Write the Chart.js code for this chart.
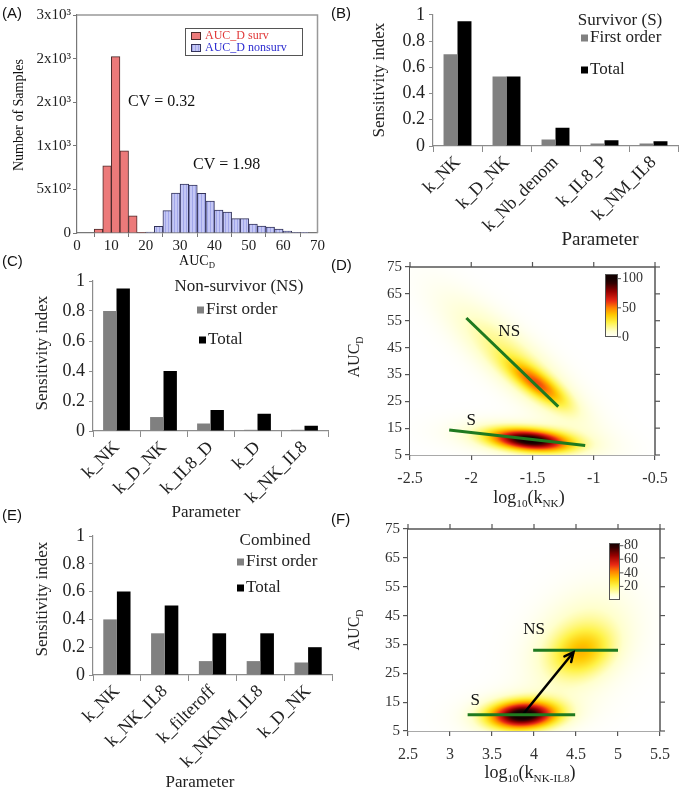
<!DOCTYPE html>
<html lang="en">
<head>
<meta charset="UTF-8">
<title>AUC_D distributions and sensitivity indices</title>
<script src="https://cdn.jsdelivr.net/npm/chart.js"></script>
<style>
  body { margin: 0; background: #fff; }
  #wrap { position: relative; width: 679px; height: 797px; overflow: hidden; }
  #wrap canvas { position: absolute; }
</style>
</head>
<body>
<div id="wrap"></div>
<script>
// ---------- data ----------

// (A) histogram of AUC_D, bins are 2.5 wide (left edges)
const survBinStart = [5, 7.5, 10, 12.5, 15, 17.5];
const survCounts = [46, 771, 2023, 943, 198, 5];
const nonsurvBinStart = [20, 22.5, 25, 27.5, 30, 32.5, 35, 37.5, 40, 42.5, 45, 47.5, 50, 52.5, 55, 57.5, 60, 62.5, 65];
const nonsurvCounts = [10, 76, 256, 458, 561, 550, 454, 366, 263, 240, 164, 164, 103, 80, 69, 46, 23, 5, 4];
const histYLabels = ['0', '5x10²', '1x10³', '2x10³', '2x10³', '3x10³'];

// (B) survivors
const paramsS = ['k_NK', 'k_D_NK', 'k_Nb_denom', 'k_IL8_P', 'k_NM_IL8'];
const firstS = [0.70, 0.53, 0.05, 0.02, 0.02];
const totalS = [0.95, 0.53, 0.14, 0.043, 0.036];

// (C) non-survivors
const paramsNS = ['k_NK', 'k_D_NK', 'k_IL8_D', 'k_D', 'k_NK_IL8'];
const firstNS = [0.80, 0.093, 0.05, 0.008, 0.008];
const totalNS = [0.95, 0.40, 0.14, 0.115, 0.035];

// (E) combined
const paramsC = ['k_NK', 'k_NK_IL8', 'k_filteroff', 'k_NKNM_IL8', 'k_D_NK'];
const firstC = [0.40, 0.30, 0.10, 0.10, 0.09];
const totalC = [0.60, 0.50, 0.30, 0.30, 0.20];

// (D) density clusters: [centre x, centre y, sd x, sd y, correlation, peak]
const densityD = [
  [-1.52, 10.5, 0.21, 2.7, -0.3, 92],
  [-1.56, 11, 0.36, 4.4, -0.3, 14],
  [-1.46, 31.5, 0.16, 5.5, -0.8, 40],
  [-1.63, 39, 0.36, 15, -0.85, 20]
];
const nsLineD = [[-2.04, 56], [-1.29, 23]];
const sLineD = [[-2.18, 14.3], [-1.07, 8.5]];

// (F) density clusters
const densityF = [
  [3.87, 10.5, 0.26, 3.1, 0.1, 80],
  [3.85, 11, 0.42, 5, 0.1, 10],
  [4.57, 32.5, 0.24, 5.5, 0.2, 21],
  [4.55, 35, 0.4, 12, 0.3, 14]
];
const sLineF = [[3.21, 10.6], [4.49, 10.6]];
const nsLineF = [[3.99, 33], [5.0, 33]];
const shiftF = [[3.87, 10.8], [4.47, 32.3]];

// ---------- helpers ----------
const SERIF = "'Liberation Serif', 'Times New Roman', serif";
const SANS = "'Liberation Sans', Arial, sans-serif";
Chart.defaults.font.family = SERIF;
Chart.defaults.color = '#222';

const wrap = document.getElementById('wrap');
const plain = v => String(+Number(v).toFixed(2));

function makeCanvas(box) {
  const c = document.createElement('canvas');
  c.width = box.w; c.height = box.h;
  c.style.left = box.left + 'px'; c.style.top = box.top + 'px';
  c.style.width = box.w + 'px'; c.style.height = box.h + 'px';
  wrap.appendChild(c);
  return c;
}

// chart area fixed through padding + axis sizes (page coordinates)
function layoutFor(box, area) {
  return {
    padding: { left: 0, bottom: 0, top: area.t - box.top, right: box.left + box.w - area.r },
    yW: area.l - box.left,
    xH: box.top + box.h - area.b
  };
}

function richText(ctx, parts, x, y, size, align) {
  const sub = size * 0.62;
  let total = 0;
  const widths = parts.map(p => {
    ctx.font = (p[1] ? sub : size) + 'px ' + SERIF;
    const w = ctx.measureText(p[0]).width;
    total += w;
    return w;
  });
  let cx = align === 'left' ? x : x - total / 2;
  ctx.textAlign = 'left';
  ctx.textBaseline = 'middle';
  parts.forEach((p, i) => {
    ctx.font = (p[1] ? sub : size) + 'px ' + SERIF;
    ctx.fillText(p[0], cx, p[1] ? y + size * 0.32 : y);
    cx += widths[i];
  });
}

function rotText(ctx, parts, x, y, size) {
  ctx.save();
  ctx.translate(x, y);
  ctx.rotate(-Math.PI / 2);
  richText(ctx, parts, 0, 0, size, 'center');
  ctx.restore();
}

function panelLabel(ctx, s, x, y) {
  ctx.font = '15px ' + SANS;
  ctx.textAlign = 'left';
  ctx.textBaseline = 'middle';
  ctx.fillStyle = '#111';
  ctx.fillText(s, x, y);
}

function decoPlugin(box, fn) {
  return {
    id: 'deco',
    afterDraw(chart) {
      const ctx = chart.ctx;
      ctx.save();
      ctx.translate(-box.left, -box.top);
      ctx.fillStyle = '#111';
      fn(ctx, chart);
      ctx.restore();
    }
  };
}

// reversed "hot" colour map
const hotStops = [
  [0, [255, 255, 255]], [0.1, [255, 255, 205]], [0.25, [255, 242, 70]],
  [0.38, [255, 200, 0]], [0.5, [255, 130, 0]], [0.62, [232, 40, 20]],
  [0.78, [150, 0, 0]], [0.92, [50, 0, 0]], [1, [20, 0, 0]]
];
function hot(t) {
  t = Math.max(0, Math.min(1, t));
  for (let i = 1; i < hotStops.length; i++) {
    if (t <= hotStops[i][0]) {
      const a = hotStops[i - 1], b = hotStops[i];
      const f = (t - a[0]) / (b[0] - a[0]);
      return a[1].map((v, k) => Math.round(v + (b[1][k] - v) * f));
    }
  }
  return hotStops[hotStops.length - 1][1];
}

function density(blobs, x, y) {
  let v = 0;
  for (const b of blobs) {
    const dx = (x - b[0]) / b[2], dy = (y - b[1]) / b[3], r = b[4];
    v += b[5] * Math.exp(-0.5 * (dx * dx - 2 * r * dx * dy + dy * dy) / (1 - r * r));
  }
  return v;
}

function heatPlugin(blobs, vmax) {
  return {
    id: 'heat',
    beforeDatasetsDraw(chart) {
      const a = chart.chartArea;
      const w = Math.round(a.right - a.left), h = Math.round(a.bottom - a.top);
      const off = document.createElement('canvas');
      off.width = w; off.height = h;
      const g = off.getContext('2d');
      const img = g.createImageData(w, h);
      const xs = chart.scales.x, ys = chart.scales.y;
      for (let j = 0; j < h; j++) {
        const yv = ys.getValueForPixel(a.top + j + 0.5);
        for (let i = 0; i < w; i++) {
          const xv = xs.getValueForPixel(a.left + i + 0.5);
          const c = hot(density(blobs, xv, yv) / vmax);
          const k = (j * w + i) * 4;
          img.data[k] = c[0]; img.data[k + 1] = c[1]; img.data[k + 2] = c[2]; img.data[k + 3] = 255;
        }
      }
      g.putImageData(img, 0, 0);
      chart.ctx.drawImage(off, a.left, a.top);
    }
  };
}

function colorBar(ctx, x0, x1, y0, y1, vmax, vTop, ticks, size) {
  for (let y = y0; y < y1; y++) {
    const v = vTop * (y1 - y - 0.5) / (y1 - y0);
    const c = hot(v / vmax);
    ctx.fillStyle = 'rgb(' + c.join(',') + ')';
    ctx.fillRect(x0, y, x1 - x0, 1);
  }
  ctx.strokeStyle = '#555';
  ctx.lineWidth = 1;
  ctx.strokeRect(x0 + 0.5, y0 + 0.5, x1 - x0 - 1, y1 - y0 - 1);
  ctx.font = size + 'px ' + SERIF;
  ctx.fillStyle = '#333';
  ctx.textAlign = 'left';
  ctx.textBaseline = 'middle';
  ticks.forEach(t => {
    const y = y1 - (y1 - y0) * t / vTop;
    ctx.beginPath(); ctx.moveTo(x1, y); ctx.lineTo(x1 + 3, y); ctx.stroke();
    ctx.fillText(String(t), x1 + 4, y);
  });
}

// frame + outward ticks on top and right of density panels
function frameTicks(ctx, chart, box) {
  const a = chart.chartArea, xs = chart.scales.x, ys = chart.scales.y;
  ctx.save();
  ctx.translate(box.left, box.top);
  ctx.strokeStyle = '#555';
  ctx.lineWidth = 1.5;
  ctx.beginPath();
  ctx.moveTo(a.left, a.top); ctx.lineTo(a.right, a.top); ctx.lineTo(a.right, a.bottom);
  ctx.stroke();
  ctx.lineWidth = 1.2;
  xs.ticks.forEach(t => {
    const px = xs.getPixelForValue(t.value);
    ctx.beginPath(); ctx.moveTo(px, a.top); ctx.lineTo(px, a.top - 5); ctx.stroke();
  });
  ys.ticks.forEach(t => {
    const py = ys.getPixelForValue(t.value);
    ctx.beginPath(); ctx.moveTo(a.right, py); ctx.lineTo(a.right + 5, py); ctx.stroke();
  });
  ctx.restore();
}

function dataText(ctx, chart, box, s, x, y, size) {
  const px = chart.scales.x.getPixelForValue(x) + box.left;
  const py = chart.scales.y.getPixelForValue(y) + box.top;
  ctx.font = size + 'px ' + SERIF;
  ctx.fillStyle = '#111';
  ctx.textAlign = 'center';
  ctx.textBaseline = 'middle';
  ctx.fillText(s, px, py);
}

function hatchPattern() {
  const c = document.createElement('canvas');
  c.width = 3; c.height = 3;
  const g = c.getContext('2d');
  g.fillStyle = '#c4c7f5'; g.fillRect(0, 0, 3, 3);
  g.fillStyle = '#a2a7ea'; g.fillRect(0, 0, 1, 3);
  return g.createPattern(c, 'repeat');
}

const pts = arr => arr.map(p => ({ x: p[0], y: p[1] }));

// ---------- (A) histogram ----------
(function () {
  const box = { left: 0, top: 0, w: 325, h: 275 };
  const L = layoutFor(box, { l: 77, t: 15, r: 322, b: 233 });
  new Chart(makeCanvas(box), {
    type: 'bar',
    data: {
      datasets: [{
        label: 'AUC_D surv',
        data: survBinStart.map((s, i) => ({ x: s + 1.25, y: survCounts[i] })),
        backgroundColor: '#ec7a7a', borderColor: '#4a2a2a', borderWidth: 1,
        barPercentage: 1, categoryPercentage: 1, grouped: false
      }, {
        label: 'AUC_D nonsurv',
        data: nonsurvBinStart.map((s, i) => ({ x: s + 1.25, y: nonsurvCounts[i] })),
        backgroundColor: hatchPattern(), borderColor: '#33335a', borderWidth: 1,
        barPercentage: 1, categoryPercentage: 1, grouped: false
      }]
    },
    options: {
      responsive: false, animation: false, devicePixelRatio: 1,
      layout: { padding: L.padding },
      plugins: { legend: { display: false }, tooltip: { enabled: false } },
      scales: {
        x: {
          type: 'linear', min: 0, max: 70, offset: false,
          ticks: { stepSize: 10, font: { size: 15 }, color: '#222', padding: 0 },
          grid: { drawOnChartArea: false, tickLength: 4, color: '#777' },
          border: { color: '#777', width: 1.2 },
          afterFit: s => { s.height = L.xH; }
        },
        y: {
          min: 0, max: 2500,
          ticks: { stepSize: 500, font: { size: 15 }, color: '#222', padding: 2,
            callback: (v, i) => histYLabels[i] },
          grid: { drawOnChartArea: false, tickLength: 4, color: '#777' },
          border: { color: '#777', width: 1.2 },
          afterFit: s => { s.width = L.yW; }
        }
      }
    },
    plugins: [decoPlugin(box, (ctx, chart) => {
      const a = chart.chartArea;
      ctx.strokeStyle = '#999';
      ctx.lineWidth = 1.5;
      ctx.beginPath();
      ctx.moveTo(a.left, a.top); ctx.lineTo(a.right, a.top); ctx.lineTo(a.right, a.bottom);
      ctx.stroke();
      // legend
      ctx.fillStyle = '#fff';
      ctx.fillRect(185, 28, 118, 28);
      ctx.strokeStyle = '#555'; ctx.lineWidth = 1;
      ctx.strokeRect(185.5, 28.5, 117, 27);
      ctx.fillStyle = '#ec7a7a'; ctx.fillRect(191, 32, 10, 8);
      ctx.strokeStyle = '#4a2a2a'; ctx.strokeRect(191.5, 32.5, 9, 7);
      ctx.fillStyle = hatchPattern(); ctx.fillRect(191, 44, 10, 8);
      ctx.strokeStyle = '#33335a'; ctx.strokeRect(191.5, 44.5, 9, 7);
      ctx.font = '12px ' + SERIF; ctx.textAlign = 'left'; ctx.textBaseline = 'middle';
      ctx.fillStyle = '#e03838'; ctx.fillText('AUC_D surv', 205, 36);
      ctx.fillStyle = '#2c2cd0'; ctx.fillText('AUC_D nonsurv', 205, 48);
      // annotations
      ctx.fillStyle = '#111';
      ctx.font = '16px ' + SERIF;
      ctx.fillText('CV = 0.32', 128, 102);
      ctx.fillText('CV = 1.98', 193, 165);
      rotText(ctx, [['Number of Samples']], 19, 115, 14);
      richText(ctx, [['AUC'], ['D', 1]], 197, 261, 14, 'center');
      panelLabel(ctx, '(A)', 2, 14);
    })]
  });
})();

// ---------- (B), (C), (E) sensitivity bars ----------
function sensitivity(box, area, labels, first, total, legend, titles, letter) {
  const L = layoutFor(box, area);
  new Chart(makeCanvas(box), {
    type: 'bar',
    data: {
      labels: labels,
      datasets: [
        { label: 'First order', data: first, backgroundColor: '#808080', barPercentage: 1, categoryPercentage: 0.57 },
        { label: 'Total', data: total, backgroundColor: '#000000', barPercentage: 1, categoryPercentage: 0.57 }
      ]
    },
    options: {
      responsive: false, animation: false, devicePixelRatio: 1,
      layout: { padding: L.padding },
      plugins: { legend: { display: false }, tooltip: { enabled: false } },
      scales: {
        x: {
          ticks: { font: { size: 18 }, color: '#222', minRotation: 45, maxRotation: 45, autoSkip: false, padding: 0 },
          grid: { offset: true, drawOnChartArea: false, tickLength: 6, color: '#8c8c8c' },
          border: { color: '#8c8c8c', width: 1.2 },
          afterFit: s => { s.height = L.xH; }
        },
        y: {
          min: 0, max: 1,
          ticks: { stepSize: 0.2, font: { size: 18 }, color: '#222', padding: 4, callback: plain },
          grid: { drawOnChartArea: false, tickLength: 4, color: '#8c8c8c' },
          border: { color: '#8c8c8c', width: 1.2 },
          afterFit: s => { s.width = L.yW; }
        }
      }
    },
    plugins: [decoPlugin(box, ctx => {
      ctx.fillStyle = '#222';
      ctx.font = '17px ' + SERIF;
      ctx.textAlign = 'center'; ctx.textBaseline = 'middle';
      ctx.fillText(legend.title[0], legend.title[1], legend.title[2]);
      ctx.textAlign = 'left';
      legend.rows.forEach((r, i) => {
        ctx.fillStyle = i === 0 ? '#808080' : '#000';
        ctx.fillRect(r[0], r[1] - 3.5, 7, 7);
        ctx.fillStyle = '#222';
        ctx.fillText(i === 0 ? 'First order' : 'Total', r[0] + 9, r[1]);
      });
      rotText(ctx, [['Sensitivity index']], titles.y[0], titles.y[1], 17);
      richText(ctx, [['Parameter']], titles.x[0], titles.x[1], titles.size, 'center');
      panelLabel(ctx, letter[0], letter[1], letter[2]);
    })]
  });
}

sensitivity({ left: 325, top: 0, w: 354, h: 258 }, { l: 433, t: 7, r: 678, b: 146 },
  paramsS, firstS, totalS,
  { title: ['Survivor (S)', 620, 21], rows: [[581, 38], [581, 70]] },
  { y: [380, 80], x: [600, 240], size: 19 }, ['(B)', 331, 14]);

sensitivity({ left: 0, top: 255, w: 340, h: 265 }, { l: 93, t: 281, r: 328, b: 431 },
  paramsNS, firstNS, totalNS,
  { title: ['Non-survivor (NS)', 239, 287], rows: [[197, 310], [199, 340]] },
  { y: [43, 353], x: [206, 513], size: 17 }, ['(C)', 2, 262]);

sensitivity({ left: 0, top: 500, w: 340, h: 297 }, { l: 93, t: 536, r: 332, b: 675 },
  paramsC, firstC, totalC,
  { title: ['Combined', 275, 541], rows: [[237, 562], [237, 588]] },
  { y: [43, 599], x: [200, 783], size: 17 }, ['(E)', 2, 516]);

// ---------- (D), (F) density maps ----------
function densityPanel(box, area, xr, blobs, vmax, lines, extra) {
  const L = layoutFor(box, area);
  const axis = {
    grid: { drawOnChartArea: false, tickLength: 5, color: '#555', lineWidth: 1.2 },
    border: { color: '#555', width: 1.5 }
  };
  new Chart(makeCanvas(box), {
    type: 'scatter',
    data: { datasets: lines },
    options: {
      responsive: false, animation: false, devicePixelRatio: 1,
      layout: { padding: L.padding },
      plugins: { legend: { display: false }, tooltip: { enabled: false } },
      scales: {
        x: Object.assign({
          type: 'linear', min: xr[0], max: xr[1],
          ticks: { stepSize: 0.5, font: { size: 16 }, color: '#333', padding: 9, callback: plain },
          afterFit: s => { s.height = L.xH; }
        }, axis),
        y: Object.assign({
          min: 5, max: 75,
          ticks: { stepSize: 10, font: { size: 15 }, color: '#333', padding: 3, callback: plain },
          afterFit: s => { s.width = L.yW; }
        }, axis)
      }
    },
    plugins: [heatPlugin(blobs, vmax), decoPlugin(box, (ctx, chart) => {
      frameTicks(ctx, chart, box);
      extra(ctx, chart);
    })]
  });
}

const green = { borderColor: '#1f7a1f', borderWidth: 3, showLine: true, pointRadius: 0, fill: false };

const boxD = { left: 325, top: 255, w: 354, h: 260 };
densityPanel(boxD, { l: 410, t: 267, r: 655, b: 455 }, [-2.5, -0.5], densityD, 100, [
  Object.assign({ label: 'NS', data: pts(nsLineD) }, green),
  Object.assign({ label: 'S', data: pts(sLineD) }, green)
], (ctx, chart) => {
  dataText(ctx, chart, boxD, 'NS', -1.69, 51, 17);
  dataText(ctx, chart, boxD, 'S', -2.0, 18, 17);
  colorBar(ctx, 605, 618, 274, 337, 100, 108, [0, 50, 100], 14);
  ctx.fillStyle = '#222';
  rotText(ctx, [['AUC'], ['D', 1]], 355, 357, 16);
  richText(ctx, [['log'], ['10', 1], ['(k'], ['NK', 1], [')']], 529, 498, 18, 'center');
  panelLabel(ctx, '(D)', 331, 266);
});

const boxF = { left: 325, top: 513, w: 354, h: 284 };
densityPanel(boxF, { l: 408, t: 529, r: 660, b: 731 }, [2.5, 5.5], densityF, 84, [
  Object.assign({ label: 'S', data: pts(sLineF) }, green),
  Object.assign({ label: 'NS', data: pts(nsLineF) }, green),
  { label: 'shift', data: pts(shiftF), borderColor: '#000', borderWidth: 2.5, showLine: true, pointRadius: 0 }
], (ctx, chart) => {
  // arrow head at the end of the shift
  const xs = chart.scales.x, ys = chart.scales.y;
  const x0 = xs.getPixelForValue(shiftF[0][0]) + boxF.left, y0 = ys.getPixelForValue(shiftF[0][1]) + boxF.top;
  const x1 = xs.getPixelForValue(shiftF[1][0]) + boxF.left, y1 = ys.getPixelForValue(shiftF[1][1]) + boxF.top;
  const ang = Math.atan2(y1 - y0, x1 - x0);
  ctx.strokeStyle = '#000'; ctx.lineWidth = 2.5; ctx.lineCap = 'round';
  ctx.beginPath();
  ctx.moveTo(x1 - 10 * Math.cos(ang - 0.45), y1 - 10 * Math.sin(ang - 0.45));
  ctx.lineTo(x1, y1);
  ctx.lineTo(x1 - 10 * Math.cos(ang + 0.45), y1 - 10 * Math.sin(ang + 0.45));
  ctx.stroke();
  dataText(ctx, chart, boxF, 'NS', 4.0, 40, 17);
  dataText(ctx, chart, boxF, 'S', 3.3, 15.7, 17);
  colorBar(ctx, 609, 620, 543, 600, 84, 84, [20, 40, 60, 80], 14);
  ctx.fillStyle = '#222';
  rotText(ctx, [['AUC'], ['D', 1]], 355, 630, 16);
  richText(ctx, [['log'], ['10', 1], ['(k'], ['NK-IL8', 1], [')']], 530, 773, 18, 'center');
  panelLabel(ctx, '(F)', 331, 520);
});
</script>
</body>
</html>
